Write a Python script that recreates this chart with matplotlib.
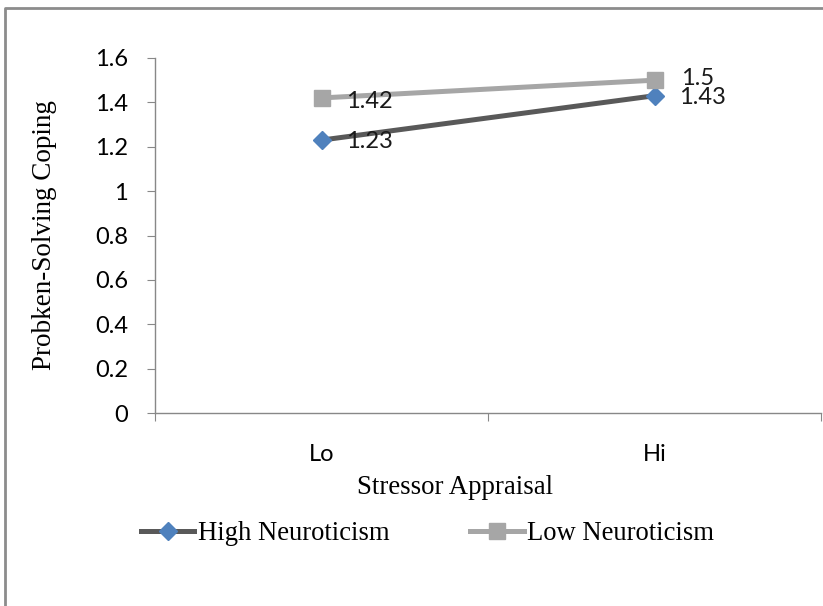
import matplotlib
matplotlib.use("Agg")
import matplotlib.pyplot as plt
from matplotlib.lines import Line2D

categories = ["Lo", "Hi"]
high_neuro = [1.23, 1.43]
low_neuro = [1.42, 1.5]
yticks = [0, 0.2, 0.4, 0.6, 0.8, 1, 1.2, 1.4, 1.6]
ytick_labels = ["0", "0.2", "0.4", "0.6", "0.8", "1", "1.2", "1.4", "1.6"]

sans = ["Lato", "DejaVu Sans"]
serif = ["Liberation Serif", "DejaVu Serif"]

W, H = 823, 606
fig = plt.figure(figsize=(W / 100, H / 100), dpi=100)
ax = fig.add_axes([155 / W, 1 - 413 / H, (821 - 155) / W, (413 - 58) / H])

x = list(range(len(categories)))
ax.plot(x, high_neuro, color="#595959", lw=3.6, marker="D", ms=9.5,
        mfc="#4F81BD", mec="#4F81BD", label="High Neuroticism", zorder=3)
ax.plot(x, low_neuro, color="#A6A6A6", lw=3.6, marker="s", ms=12,
        mfc="#A6A6A6", mec="#A6A6A6", label="Low Neuroticism", zorder=4)

for xi, v in zip(x, high_neuro):
    ax.annotate(f"{v:g}", (xi, v), xytext=(18, -1), textcoords="offset points",
                ha="left", va="center", fontsize=17, family=sans, color="#1a1a1a",
                zorder=6)
for xi, v in zip(x, low_neuro):
    off = (19, 1) if xi == 1 else (18, -2.5)
    ax.annotate(f"{v:g}", (xi, v), xytext=off, textcoords="offset points",
                ha="left", va="center", fontsize=17, family=sans, color="#1a1a1a",
                zorder=6)

ax.set_xlim(-0.5, 1.5)
ax.set_ylim(0, 1.6)
ax.set_yticks(yticks)
ax.set_yticklabels(ytick_labels, family=sans, fontsize=17)
ax.set_xticks([-0.5, 0.5, 1.5])
ax.set_xticklabels([])
ax.set_xticks(x, minor=True)
ax.set_xticklabels(categories, minor=True, family=sans, fontsize=17)
ax.tick_params(axis="x", which="minor", length=0, pad=22)
ax.tick_params(axis="x", which="major", length=6, color="#888888", direction="out")
ax.tick_params(axis="y", length=6, color="#888888", direction="out", pad=13.5)

for s in ["top", "right"]:
    ax.spines[s].set_visible(False)
for s in ["left", "bottom"]:
    ax.spines[s].set_color("#888888")
    ax.spines[s].set_linewidth(1)

fig.text(455 / W, 1 - 488 / H, "Stressor Appraisal", family=serif, fontsize=19.3,
         ha="center", va="center")
fig.text(45 / W, 1 - 235 / H, "Probken-Solving Coping", family=serif, fontsize=19.5,
         ha="center", va="center", rotation=90)

leg = ax.legend(loc="center left", bbox_to_anchor=(141 / W, 1 - 534 / H),
                bbox_transform=fig.transFigure, ncol=2, frameon=False,
                prop={"family": serif, "size": 19.2}, handlelength=2.0,
                handletextpad=0.12, columnspacing=3.05, numpoints=1, borderpad=0,
                borderaxespad=0)

fig.add_artist(Line2D([5 / W, 5 / W, 1], [0, 1 - 8 / H, 1 - 8 / H],
                      transform=fig.transFigure, color="#8c8c8c", lw=2))

fig.savefig("out.png", dpi=100)
